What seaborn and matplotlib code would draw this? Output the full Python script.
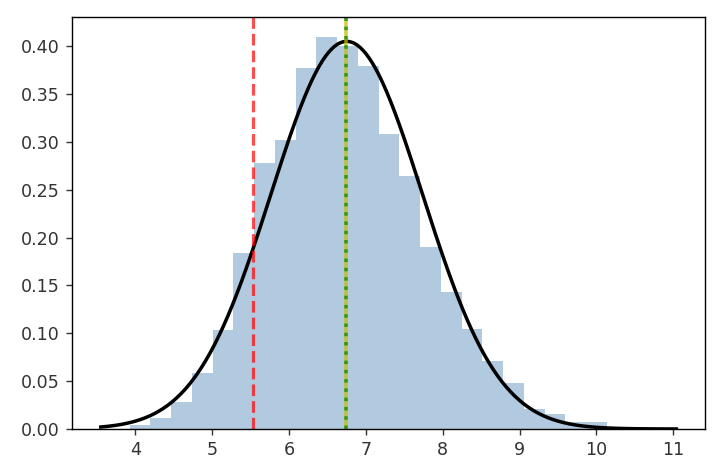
"""
Histogram of the sample with a fitted normal curve and two reference lines.
"""

import numpy as np
import seaborn as sns
import matplotlib
matplotlib.use("Agg")
import matplotlib.pyplot as plt

# bin edges and density heights
bin_edges = [3.925, 4.195, 4.465, 4.735, 5.005, 5.275, 5.545, 5.815, 6.085,
             6.355, 6.625, 6.895, 7.165, 7.435, 7.705, 7.975, 8.245, 8.515,
             8.785, 9.055, 9.325, 9.595, 9.865, 10.135]
bin_density = [0.004, 0.011, 0.028, 0.058, 0.103, 0.184, 0.278, 0.302,
               0.377, 0.410, 0.400, 0.379, 0.308, 0.264, 0.190, 0.143,
               0.105, 0.071, 0.048, 0.021, 0.016, 0.0075, 0.0075]

# fitted normal curve (parameters)
fit_mu = 6.75
fit_sigma = 0.985
fit_range = (3.55, 11.04)

# vertical reference lines
red_line_x = 5.535
center_line_x = 6.74


def normal_pdf(x, mu, sigma):
    return np.exp(-0.5 * ((x - mu) / sigma) ** 2) / (sigma * np.sqrt(2 * np.pi))


if __name__ == "__main__":
    fig, ax = plt.subplots(figsize=(713 / 126, 466 / 126), dpi=126)
    fig.subplots_adjust(left=0.101, right=0.989, top=0.9635, bottom=0.0794)

    centers = [(a + b) / 2 for a, b in zip(bin_edges[:-1], bin_edges[1:])]
    sns.histplot(x=centers, weights=bin_density, bins=bin_edges, stat="count",
                 color="steelblue", alpha=0.42, linewidth=0, ax=ax)

    xs = np.linspace(fit_range[0], fit_range[1], 400)
    sns.lineplot(x=xs, y=normal_pdf(xs, fit_mu, fit_sigma), color="k",
                 lw=2, ax=ax)

    ax.axvline(red_line_x, color="red", alpha=0.7, linestyle="--", lw=1.8)
    ax.axvline(center_line_x, color="y", alpha=0.75, lw=2)
    ax.axvline(center_line_x, color="g", alpha=0.7, linestyle=":", lw=2)

    ax.set_xlabel("")
    ax.set_ylabel("")
    ax.set_yticks(np.arange(0, 0.41, 0.05))
    ax.tick_params(colors="#333333", labelcolor="#333333")
    plt.savefig("out.png", dpi=126)
